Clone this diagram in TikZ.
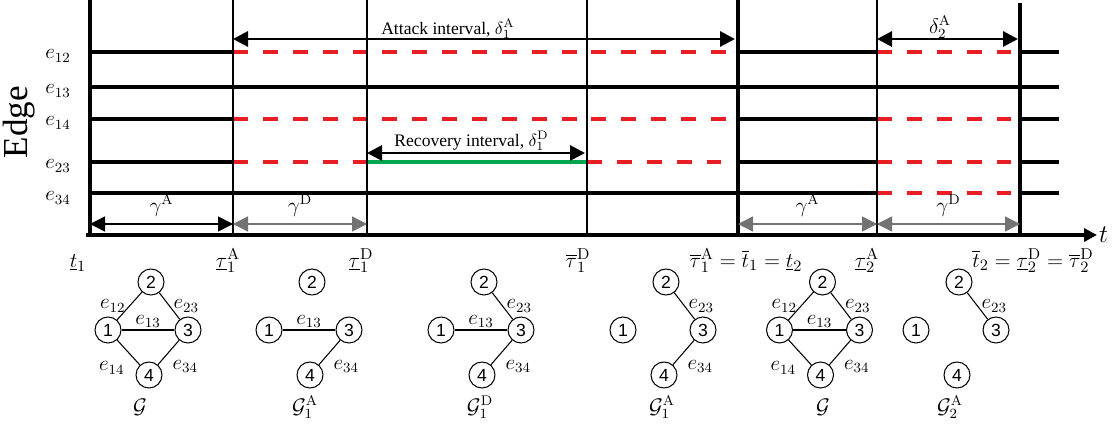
\documentclass[tikz,border=0pt]{standalone}
\usepackage[no-math]{fontspec}
\setmainfont{Liberation Serif}
\newfontfamily\vtxfont{Liberation Sans}
\usetikzlibrary{arrows.meta,calc}
\definecolor{atkred}{RGB}{232,30,36}
\definecolor{recgreen}{RGB}{0,166,80}
\tikzset{
	rowline/.style={line width=2pt},
	atkline/.style={line width=2pt, atkred, dash pattern=on 8.5pt off 8.5pt},
	recline/.style={line width=2pt, recgreen},
	thinmark/.style={line width=0.6pt},
	thickmark/.style={line width=2.8pt},
	intvarrow/.style={line width=1.7pt, {Triangle[length=3mm,width=3mm]}-{Triangle[length=3mm,width=3mm]}},
	gaparrow/.style={line width=0.8pt, {Triangle[length=3mm,width=3mm]}-{Triangle[length=3mm,width=3mm]}},
	vtx/.style={circle, draw, line width=0.6pt, minimum size=0.52cm, inner sep=0pt, font=\vtxfont\fontsize{10}{12}\selectfont},
	elbl/.style={font=\fontsize{12}{14}\selectfont, inner sep=2pt},
	tlbl/.style={font=\fontsize{12.5}{15}\selectfont, anchor=base},
}
\def\netnodes(#1)#2{%
	\node[vtx] (#2-1) at (#1) {1};
	\node[vtx] (#2-2) at ($(#1)+(0.86,0.96)$) {2};
	\node[vtx] (#2-3) at ($(#1)+(1.6,0)$) {3};
	\node[vtx] (#2-4) at ($(#1)+(0.82,-0.9)$) {4};
}

\begin{document}
\begin{tikzpicture}
		%%%%% START %%%%%
		\useasboundingbox (-1.8, -3.78) rectangle (20.6, 4.70);
		
		% edge rows
		\foreach \y in {3.66, 2.96, 2.32, 1.46, 0.84} {
			\draw[rowline] (0, \y) -- (2.86, \y);
			\draw[rowline] (12.96, \y) -- (15.74, \y);
			\draw[rowline] (18.6, \y) -- (19.38, \y);
		}
		\draw[atkline] (2.86, 3.66) -- (12.96, 3.66);
		\draw[atkline] (15.74, 3.66) -- (18.6, 3.66);
		\draw[rowline] (2.86, 2.96) -- (12.96, 2.96);
		\draw[rowline] (15.74, 2.96) -- (18.6, 2.96);
		\draw[atkline] (2.86, 2.32) -- (12.96, 2.32);
		\draw[atkline] (15.74, 2.32) -- (18.6, 2.32);
		\draw[atkline] (2.86, 1.46) -- (5.54, 1.46);
		\draw[recline] (5.54, 1.46) -- (9.94, 1.46);
		\draw[atkline] (9.94, 1.46) -- (12.96, 1.46);
		\draw[atkline] (15.74, 1.46) -- (18.6, 1.46);
		\draw[rowline] (2.86, 0.84) -- (12.96, 0.84);
		\draw[atkline] (15.74, 0.84) -- (18.6, 0.84);
		
		\node[elbl] (r12) at (-0.64, 3.58) {$e_{12}$};
		\node[elbl] (r13) at (-0.64, 2.88) {$e_{13}$};
		\node[elbl] (r14) at (-0.64, 2.24) {$e_{14}$};
		\node[elbl] (r23) at (-0.64, 1.38) {$e_{23}$};
		\node[elbl] (r34) at (-0.64, 0.74) {$e_{34}$};
		\node[rotate=90, font=\fontsize{20}{24}\selectfont] (ylbl) at (-1.42, 2.26) {Edge};
		
		% time marks
		\draw[thickmark] (0, -0.04) -- (0, 4.70);
		\draw[thinmark] (2.86, 0) -- (2.86, 4.70);
		\draw[thinmark] (5.54, 0) -- (5.54, 4.70);
		\draw[thinmark] (9.94, 0) -- (9.94, 4.70);
		\draw[thickmark] (12.96, 0) -- (12.96, 4.70);
		\draw[thinmark] (15.74, 0) -- (15.74, 4.70);
		\draw[thickmark] (18.6, 0) -- (18.6, 4.64);
		\draw[thickmark, -{Triangle[length=2.6mm,width=2.6mm]}] (-0.08, 0) -- (20.14, 0) coordinate (tend);
		\node[font=\fontsize{15}{18}\selectfont, right, inner sep=1pt] (tlab) at (tend) {$t$};
		
		% intervals
		\draw[intvarrow] (2.86, 3.92) -- (12.9, 3.92);
		\node[anchor=base] (atklbl) at (7.16, 4.02) {Attack interval, $\delta_1^{\mathrm{A}}$};
		\draw[intvarrow] (5.54, 1.64) -- (9.9, 1.64);
		\node[anchor=base] (reclbl) at (7.63, 1.78) {Recovery interval, $\delta_1^{\mathrm{D}}$};
		\draw[intvarrow] (15.74, 3.92) -- (18.56, 3.92);
		\node[elbl, anchor=base] (atklbl2) at (17.0, 4.04) {$\delta_2^{\mathrm{A}}$};
		
		\draw[gaparrow] (0, 0.22) -- (2.86, 0.22);
		\draw[gaparrow, draw=black!55] (2.86, 0.22) -- (5.54, 0.22);
		\draw[gaparrow, draw=black!55] (12.96, 0.22) -- (15.74, 0.22);
		\draw[gaparrow, draw=black!55] (15.74, 0.22) -- (18.6, 0.22);
		\node[elbl, anchor=base] (ga1lbl) at (1.43, 0.46) {$\gamma^{\mathrm{A}}$};
		\node[elbl, anchor=base] (gd1lbl) at (4.2, 0.46) {$\gamma^{\mathrm{D}}$};
		\node[elbl, anchor=base] (ga2lbl) at (14.35, 0.46) {$\gamma^{\mathrm{A}}$};
		\node[elbl, anchor=base] (gd2lbl) at (17.17, 0.46) {$\gamma^{\mathrm{D}}$};
		
		% time labels
		\node[tlbl] (tl1) at (-0.24, -0.64) {$\underline{t}_1$};
		\node[tlbl] (tl2) at (2.76, -0.64) {$\underline{\tau}_1^{\mathrm{A}}$};
		\node[tlbl] (tl3) at (5.42, -0.64) {$\underline{\tau}_1^{\mathrm{D}}$};
		\node[tlbl] (tl4) at (9.76, -0.64) {$\overline{\tau}_1^{\mathrm{D}}$};
		\node[tlbl] (tl5) at (13.12, -0.64) {$\overline{\tau}_1^{\mathrm{A}}=\overline{t}_1=\underline{t}_2$};
		\node[tlbl] (tl6) at (15.54, -0.64) {$\underline{\tau}_2^{\mathrm{A}}$};
		\node[tlbl] (tl7) at (18.86, -0.64) {$\overline{t}_2=\underline{\tau}_2^{\mathrm{D}}=\overline{\tau}_2^{\mathrm{D}}$};
		
		% graphs
		\netnodes(0.36, -1.90){ga}
		\draw[thinmark] (ga-1) -- node[elbl, left] {$e_{12}$} (ga-2);
		\draw[thinmark] (ga-2) -- node[elbl, right] {$e_{23}$} (ga-3);
		\draw[thinmark] (ga-1) -- node[elbl, above, inner sep=1pt] {$e_{13}$} (ga-3);
		\draw[thinmark] (ga-1) -- node[elbl, below left, yshift=-3pt] {$e_{14}$} (ga-4);
		\draw[thinmark] (ga-3) -- node[elbl, below right, yshift=-2pt] {$e_{34}$} (ga-4);
		\node[elbl, anchor=base] (gal) at (1.0, -3.56) {$\mathcal{G}$};
		
		\netnodes(3.58, -1.90){gb}
		\draw[thinmark] (gb-1) -- node[elbl, above, inner sep=1pt] {$e_{13}$} (gb-3);
		\draw[thinmark] (gb-3) -- node[elbl, below right, yshift=-2pt] {$e_{34}$} (gb-4);
		\node[elbl, anchor=base] (gbl) at (4.30, -3.56) {$\mathcal{G}_1^{\mathrm{A}}$};
		
		\netnodes(7.02, -1.90){gc}
		\draw[thinmark] (gc-2) -- node[elbl, right] {$e_{23}$} (gc-3);
		\draw[thinmark] (gc-1) -- node[elbl, above, inner sep=1pt] {$e_{13}$} (gc-3);
		\draw[thinmark] (gc-3) -- node[elbl, below right, yshift=-2pt] {$e_{34}$} (gc-4);
		\node[elbl, anchor=base] (gcl) at (7.8, -3.56) {$\mathcal{G}_1^{\mathrm{D}}$};
		
		\netnodes(10.66, -1.90){gd}
		\draw[thinmark] (gd-2) -- node[elbl, right] {$e_{23}$} (gd-3);
		\draw[thinmark] (gd-3) -- node[elbl, below right, yshift=-2pt] {$e_{34}$} (gd-4);
		\node[elbl, anchor=base] (gdl) at (11.44, -3.56) {$\mathcal{G}_1^{\mathrm{A}}$};
		
		\netnodes(13.79, -1.90){ge}
		\draw[thinmark] (ge-1) -- node[elbl, left] {$e_{12}$} (ge-2);
		\draw[thinmark] (ge-2) -- node[elbl, right] {$e_{23}$} (ge-3);
		\draw[thinmark] (ge-1) -- node[elbl, above, inner sep=1pt] {$e_{13}$} (ge-3);
		\draw[thinmark] (ge-1) -- node[elbl, below left, yshift=-3pt] {$e_{14}$} (ge-4);
		\draw[thinmark] (ge-3) -- node[elbl, below right, yshift=-2pt] {$e_{34}$} (ge-4);
		\node[elbl, anchor=base] (gel) at (14.66, -3.56) {$\mathcal{G}$};
		
		\netnodes(16.52, -1.90){gf}
		\draw[thinmark] (gf-2) -- node[elbl, right] {$e_{23}$} (gf-3);
		\node[elbl, anchor=base] (gfl) at (17.2, -3.56) {$\mathcal{G}_2^{\mathrm{A}}$};
		%%%%% END %%%%%
\end{tikzpicture}
\end{document}
